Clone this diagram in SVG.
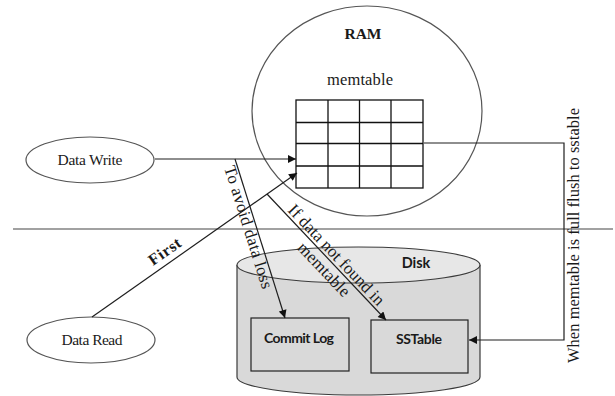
<svg xmlns="http://www.w3.org/2000/svg" width="615" height="396" viewBox="0 0 615 396">
  <style>
    .serif { font-family: "Liberation Serif", "Times New Roman", serif; fill: #1a1a1a; }
    .bold { font-weight: bold; }
    .sans { font-family: Lato, "Liberation Sans", sans-serif; font-weight: bold; fill: #1a1a1a; }
    .edge { stroke: #1e1e1e; stroke-width: 1.2; fill: none; }
    .outline { stroke: #555; stroke-width: 1.2; fill: #fff; }
    .grid { stroke: #111; stroke-width: 1.3; fill: none; }
    .box { stroke: #222; stroke-width: 1.2; fill: #d9d9d9; }
  </style>
  <defs>
    <marker id="arrow" viewBox="0 0 10 10" refX="10" refY="5" markerWidth="9" markerHeight="8" markerUnits="userSpaceOnUse" orient="auto">
      <path d="M0,0 L10,5 L0,10 z" fill="#111"/>
    </marker>
  </defs>

  <rect width="615" height="396" fill="#fff"/>

  <!-- boundary between memory and disk -->
  <line x1="13" y1="229" x2="613" y2="229" stroke="#444" stroke-width="1.2"/>

  <!-- memory area -->
  <g id="ram">
    <ellipse class="outline" cx="367" cy="111" rx="115" ry="105"/>
    <text class="serif bold" x="363" y="39" font-size="15.5" text-anchor="middle">RAM</text>
  </g>

  <g id="memtable">
    <text class="serif" x="360" y="85" font-size="16.5" text-anchor="middle" textLength="66">memtable</text>
    <rect x="296" y="100" width="127" height="88" fill="#fff" stroke="#111" stroke-width="1.3"/>
    <path class="grid" d="M296,122.5 H423 M296,143.5 H423 M296,166 H423 M328,100 V188 M359.5,100 V188 M391,100 V188"/>
  </g>

  <!-- clients -->
  <g id="data-write">
    <ellipse class="outline" cx="90" cy="160" rx="64" ry="23" stroke="#333"/>
    <text class="serif" x="90" y="165" font-size="15.5" text-anchor="middle" textLength="65">Data Write</text>
  </g>

  <g id="data-read">
    <ellipse class="outline" cx="91" cy="340" rx="64" ry="23" stroke="#333"/>
    <text class="serif" x="92" y="345" font-size="15.5" text-anchor="middle" textLength="61">Data Read</text>
  </g>

  <!-- disk storage -->
  <g id="disk">
    <path d="M237,265 V377 A121.5,18 0 0 0 480,377 V265" fill="#d9d9d9" stroke="#3a3a3a" stroke-width="1.2"/>
    <ellipse cx="358.5" cy="265" rx="121.5" ry="18" fill="#e7e7e7" stroke="#3a3a3a" stroke-width="1.2"/>
    <text class="sans" x="416" y="268" font-size="14.5" text-anchor="middle">Disk</text>
  </g>

  <g id="commit-log">
    <rect class="box" x="251" y="318" width="98" height="53"/>
    <text class="sans" x="299" y="343" font-size="14" text-anchor="middle" textLength="70">Commit Log</text>
  </g>

  <g id="sstable">
    <rect class="box" x="371" y="320" width="97" height="53"/>
    <text class="sans" x="419" y="344" font-size="14" text-anchor="middle" textLength="46">SSTable</text>
  </g>

  <!-- connectors -->
  <g id="connectors">
    <line class="edge" x1="155" y1="159" x2="296" y2="159" marker-end="url(#arrow)"/>
    <line class="edge" x1="92" y1="317" x2="297" y2="173" marker-end="url(#arrow)"/>
    <line class="edge" x1="235" y1="159" x2="285" y2="318" marker-end="url(#arrow)"/>
    <line class="edge" x1="267" y1="194" x2="386" y2="320" marker-end="url(#arrow)"/>
    <polyline class="edge" points="424,143 564,143 564,340 469,340" marker-end="url(#arrow)"/>

    <text class="serif bold" transform="translate(153,266) rotate(-35)" font-size="16" textLength="36">First</text>
    <text class="serif" transform="translate(235,159) rotate(72.6)" x="5" y="13" font-size="17" textLength="128">To avoid data loss</text>
    <g transform="translate(267,194) rotate(46.6)">
      <text class="serif" x="26" y="-3" font-size="17" textLength="132">If data not found in</text>
      <text class="serif" x="60" y="16" font-size="17" textLength="68">memtable</text>
    </g>
    <text class="serif" transform="translate(579,363) rotate(-90)" font-size="16.5" textLength="255">When memtable is full flush to sstable</text>
  </g>
</svg>
